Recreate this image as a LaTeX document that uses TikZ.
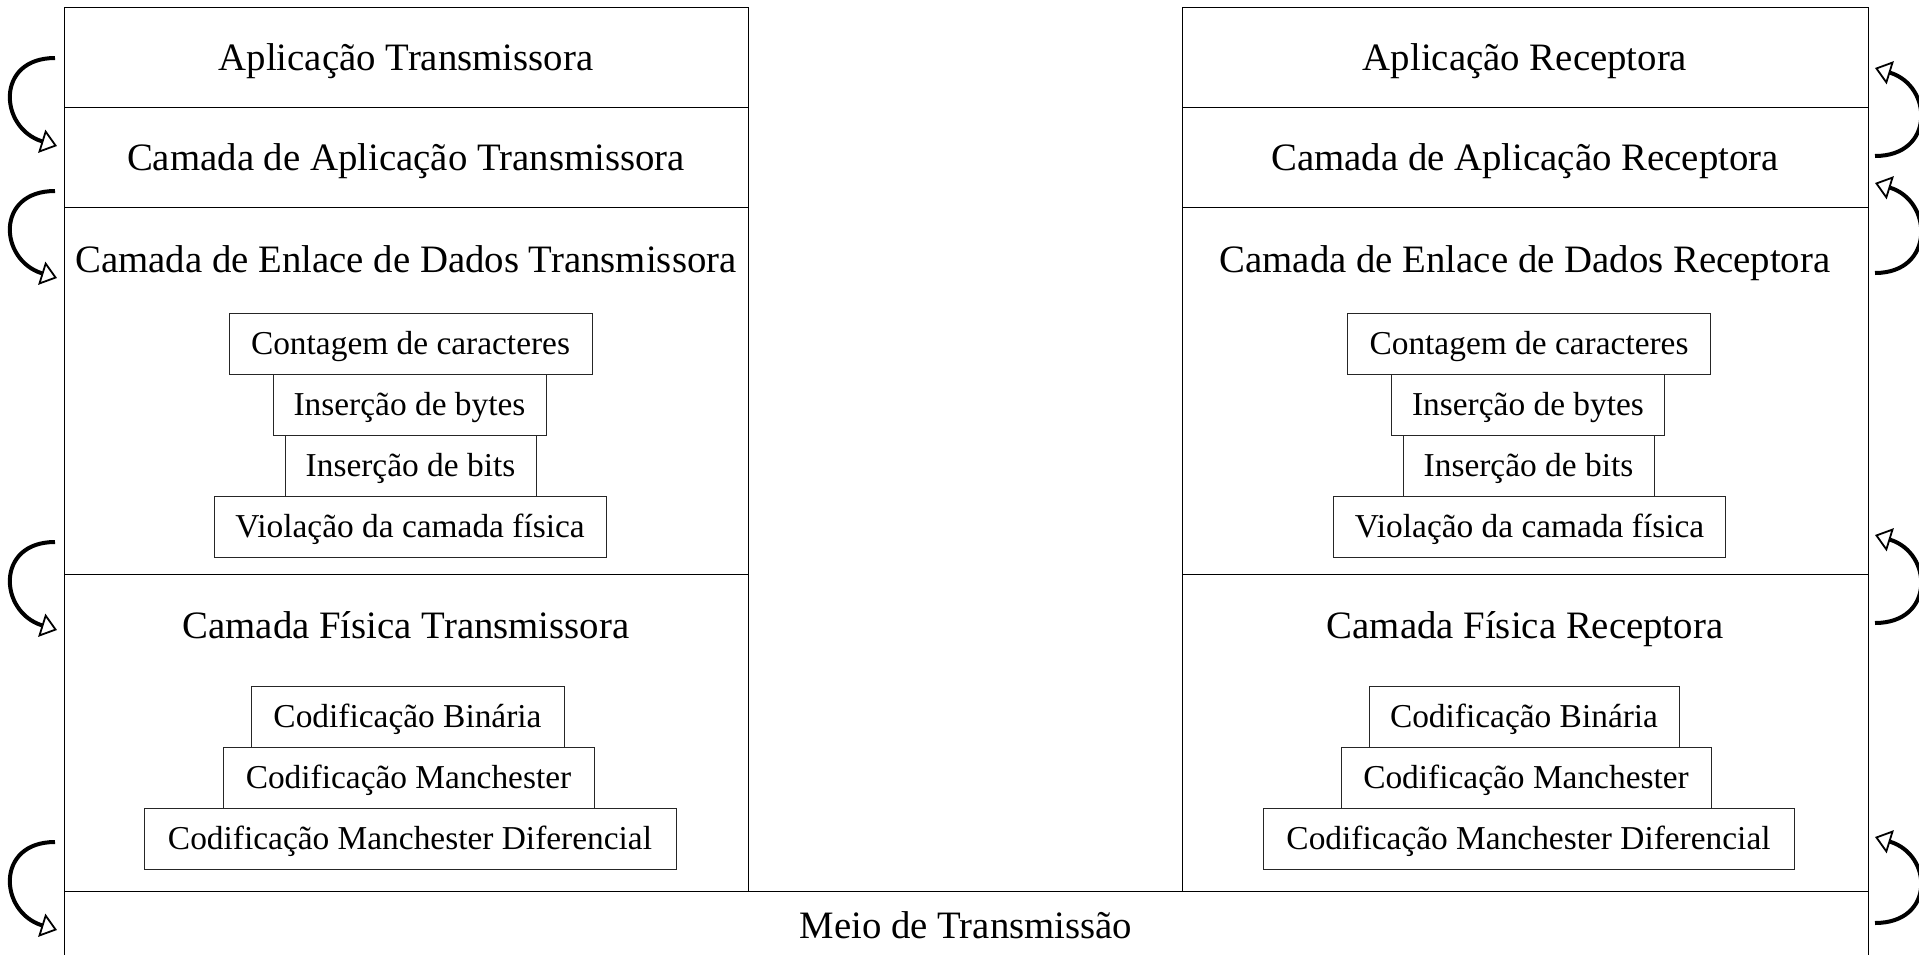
\documentclass[tikz,border=0pt]{standalone}
\usepackage{fontspec}
\setmainfont{Liberation Serif}
\usetikzlibrary{arrows.meta,calc}
\begin{document}
\begin{tikzpicture}[x=1pt,y=1pt,
  layer/.style={draw=black, line width=1pt, inner sep=0pt, anchor=north west, fill=none},
  title/.style={font=\fontsize{38.8}{46}\selectfont, anchor=base, inner sep=0pt},
  sub/.style={draw=black!85, line width=1pt, inner sep=0pt, minimum height=61pt,
    font=\fontsize{33.4}{40}\selectfont, text height=29.7pt, text depth=7.3pt},
  flow/.style={line width=4pt, -{Triangle[open, length=16pt, width=24pt, line width=1.8pt]}}
]
\clip (0,0) rectangle (1919,-954);
\fill[white] (0,0) rectangle (1919,-954);

% ---- left stack (transmitter) ----
\node[layer, minimum width=684pt, minimum height=100pt] (tapp) at (64,-7) {};
\node[layer, minimum width=684pt, minimum height=100pt] (tcapp) at (64,-107) {};
\node[layer, minimum width=684pt, minimum height=367pt] (tdll) at (64,-207) {};
\node[layer, minimum width=684pt, minimum height=317pt] (tphy) at (64,-574) {};

% ---- right stack (receiver) ----
\node[layer, minimum width=686pt, minimum height=100pt] (rapp) at (1182,-7) {};
\node[layer, minimum width=686pt, minimum height=100pt] (rcapp) at (1182,-107) {};
\node[layer, minimum width=686pt, minimum height=367pt] (rdll) at (1182,-207) {};
\node[layer, minimum width=686pt, minimum height=317pt] (rphy) at (1182,-574) {};

% ---- medium ----
\node[layer, minimum width=1804pt, minimum height=80pt] (meio) at (64,-891) {};

% ---- titles ----
\node[title] (tappt) at (406,-70) {Aplicação Transmissora};
\node[title] (tcappt) at (406,-170) {Camada de Aplicação Transmissora};
\node[title] (tdllt) at (406,-272) {Camada de Enlace de Dados Transmissora};
\node[title] (tphyt) at (406,-638) {Camada Física Transmissora};

\node[title] (rappt) at (1525,-70) {Aplicação Receptora};
\node[title] (rcappt) at (1525,-170) {Camada de Aplicação Receptora};
\node[title] (rdllt) at (1525,-272) {Camada de Enlace de Dados Receptora};
\node[title] (rphyt) at (1525,-638) {Camada Física Receptora};

\node[title] (meiot) at (966,-938) {Meio de Transmissão};

% ---- sub boxes, left ----
\node[sub, minimum width=363pt] (tcc) at (410.5,-343.5) {Contagem de caracteres};
\node[sub, minimum width=273pt] (tby) at (409.5,-404.5) {Inserção de bytes};
\node[sub, minimum width=251pt] (tbi) at (410.5,-465.5) {Inserção de bits};
\node[sub, minimum width=392pt] (tvi) at (410,-526.5) {Violação da camada física};

\node[sub, minimum width=313pt] (tcb) at (407.5,-716.5) {Codificação Binária};
\node[sub, minimum width=371pt] (tcm) at (408.5,-777.5) {Codificação Manchester};
\node[sub, minimum width=532pt] (tcd) at (410,-838.5) {Codificação Manchester Diferencial};

% ---- sub boxes, right ----
\node[sub, minimum width=363pt] (rcc) at (1529,-343.5) {Contagem de caracteres};
\node[sub, minimum width=273pt] (rby) at (1528,-404.5) {Inserção de bytes};
\node[sub, minimum width=251pt] (rbi) at (1528.5,-465.5) {Inserção de bits};
\node[sub, minimum width=392pt] (rvi) at (1529.5,-526.5) {Violação da camada física};

\node[sub, minimum width=310pt] (rcb) at (1524,-716.5) {Codificação Binária};
\node[sub, minimum width=370pt] (rcm) at (1526,-777.5) {Codificação Manchester};
\node[sub, minimum width=531pt] (rcd) at (1528.5,-838.5) {Codificação Manchester Diferencial};

% ---- arrow end points ----
\coordinate (l1s) at (55,-58);  \coordinate (l1e) at (57,-146);
\coordinate (l2s) at (55,-191); \coordinate (l2e) at (57,-278);
\coordinate (l3s) at (55,-542); \coordinate (l3e) at (57,-630);
\coordinate (l4s) at (55,-842); \coordinate (l4e) at (57,-930);

\coordinate (r1s) at (1875,-156); \coordinate (r1e) at (1875,-68);
\coordinate (r2s) at (1875,-273); \coordinate (r2e) at (1875,-183);
\coordinate (r3s) at (1875,-623); \coordinate (r3e) at (1875,-535);
\coordinate (r4s) at (1875,-923); \coordinate (r4e) at (1875,-837);

\foreach \i in {1,2,3,4}{
  \draw[flow] (l\i s) .. controls ($(l\i s)+(-60,0)$) and ($(l\i e)+(-58,18)$) .. (l\i e);
  \draw[flow] (r\i s) .. controls ($(r\i s)+(60,0)$) and ($(r\i e)+(58,-18)$) .. (r\i e);
}
\end{tikzpicture}
\end{document}
